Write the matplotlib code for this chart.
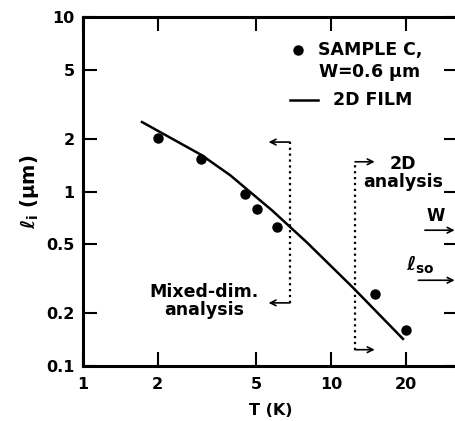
import matplotlib
matplotlib.use("Agg")
import matplotlib.pyplot as plt

# measured points, sample C
t_points = [2.0, 3.0, 4.5, 5.05, 6.05, 15.0, 20.0]
l_points = [2.03, 1.53, 0.97, 0.79, 0.63, 0.26, 0.16]

# 2D film curve
t_film = [1.73, 3.0, 3.92, 5.78, 8.0, 12.3, 19.5]
l_film = [2.5, 1.62, 1.24, 0.78, 0.51, 0.28, 0.143]

x_ticks = [1, 2, 5, 10, 20]
x_labels = ["1", "2", "5", "10", "20"]
y_ticks = [0.1, 0.2, 0.5, 1, 2, 5, 10]
y_labels = ["0.1", "0.2", "0.5", "1", "2", "5", "10"]

plt.rcParams["font.family"] = "DejaVu Sans"
plt.rcParams["mathtext.fontset"] = "dejavusans"

fig = plt.figure(figsize=(4.56, 4.21), dpi=100)
ax = fig.add_axes([83 / 456, 55 / 421, 375 / 456, 349 / 421])
ax.set_xscale("log")
ax.set_yscale("log")
ax.set_xlim(1, 32.5)
ax.set_ylim(0.1, 10)

ax.plot(t_film, l_film, color="black", lw=1.8)
ax.plot(t_points, l_points, "o", color="black", ms=6.5)

ax.set_xticks(x_ticks)
ax.set_xticklabels(x_labels)
ax.set_yticks(y_ticks)
ax.set_yticklabels(y_labels)
ax.minorticks_off()
ax.tick_params(which="major", direction="in", length=10, width=1.5,
               top=True, right=True, labelsize=11.5)
ax.tick_params(axis="x", pad=8)
ax.tick_params(axis="y", pad=6)
for lbl in ax.get_xticklabels() + ax.get_yticklabels():
    lbl.set_fontweight("bold")
for side in ["left", "bottom", "top"]:
    ax.spines[side].set_linewidth(2.2)
ax.spines["right"].set_visible(False)

ax.set_xlabel("T (K)", fontsize=11.5, fontweight="bold", labelpad=8)
ax.set_ylabel(r"$\mathbfit{ℓ}_{\mathbf{i}}$ ($\mathbf{\mu}$m)", fontsize=14, fontweight="bold", labelpad=4)

# legend drawn by hand
ax.plot([7.37], [6.47], "o", color="black", ms=6.5)
ax.text(8.85, 6.47, "SAMPLE C,", fontsize=12.5, fontweight="bold", va="center")
ax.text(8.85, 4.78, r"W=0.6 $\mathbf{\mu}$m", fontsize=12.5, fontweight="bold", va="center")
ax.plot([6.84, 8.85], [3.34, 3.34], color="black", lw=1.8)
ax.text(10.2, 3.34, "2D FILM", fontsize=12.5, fontweight="bold", va="center")

# mixed-dim bracket
arrow = dict(arrowstyle="->", color="black", lw=1.2, shrinkA=0, shrinkB=0)
ax.plot([6.83, 6.83], [0.23, 1.92], ls=":", color="black", lw=1.6)
ax.annotate("", xy=(5.6, 1.92), xytext=(6.83, 1.92), arrowprops=arrow)
ax.annotate("", xy=(5.6, 0.23), xytext=(6.83, 0.23), arrowprops=arrow)
ax.text(3.08, 0.237, "Mixed-dim.\nanalysis", fontsize=12.5, fontweight="bold", ha="center",
        va="center", linespacing=1.0)

# 2D bracket
ax.plot([12.5, 12.5], [0.124, 1.48], ls=":", color="black", lw=1.6)
ax.annotate("", xy=(15.0, 1.48), xytext=(12.5, 1.48), arrowprops=arrow)
ax.annotate("", xy=(15.0, 0.124), xytext=(12.5, 0.124), arrowprops=arrow)
ax.text(19.5, 1.27, "2D\nanalysis", fontsize=12.5, fontweight="bold", ha="center",
        va="center", linespacing=1.0)

# W and l_so markers on the right axis
ax.annotate("", xy=(31.5, 0.6), xytext=(23.9, 0.6), arrowprops=arrow)
ax.text(26.5, 0.64, "W", fontsize=12, fontweight="bold", ha="center", va="bottom")
ax.annotate("", xy=(31.5, 0.31), xytext=(22.5, 0.31), arrowprops=arrow)
ax.text(22.9, 0.38, r"$\mathbfit{ℓ}_{\mathbf{so}}$", fontsize=14, ha="center", va="center")

fig.savefig("out.png", dpi=100)
